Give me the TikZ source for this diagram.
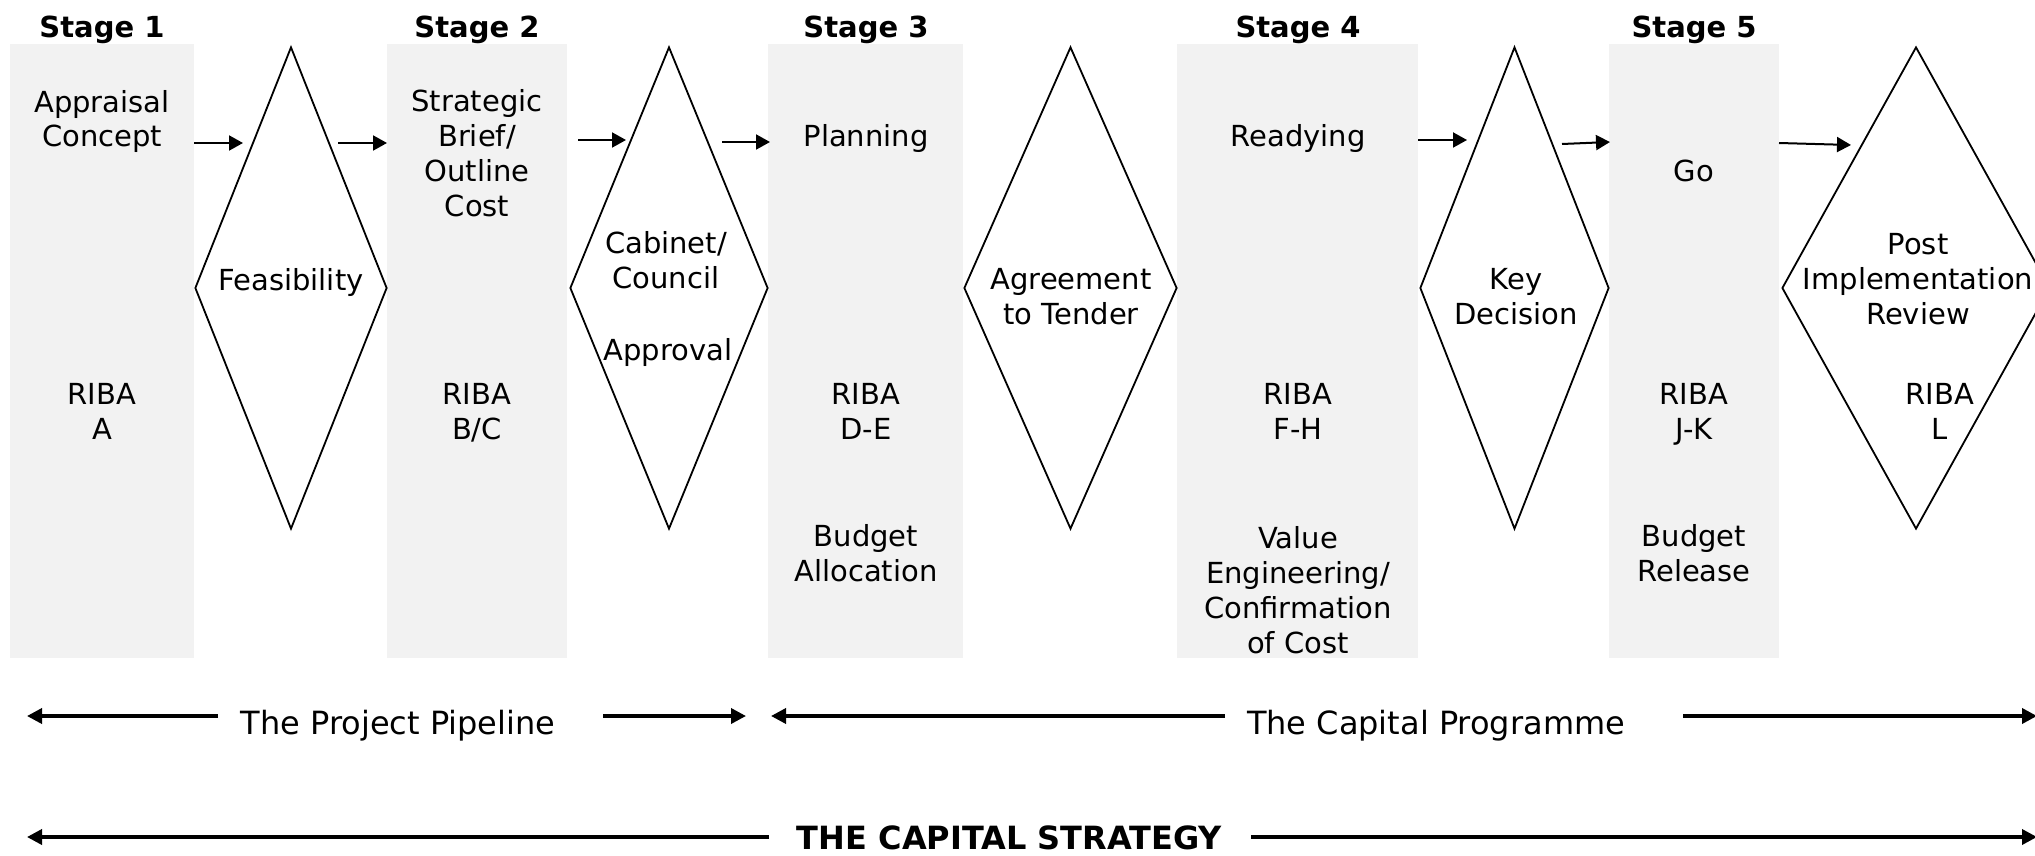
\documentclass[tikz,border=0pt]{standalone}
\usepackage{fontspec}
\setmainfont{DejaVu Sans}
\usetikzlibrary{shapes.geometric,arrows.meta}
\definecolor{boxgray}{HTML}{F2F2F2}
\begin{document}
\begin{tikzpicture}[x=1pt,y=-1pt,
  stagebox/.style={rectangle, fill=boxgray, inner sep=0, minimum height=614pt},
  gate/.style={diamond, draw=black, line width=1.8pt, inner sep=0, minimum height=482pt},
  lbl/.style={font=\fontsize{29}{35}\selectfont, align=center, inner sep=0},
  stagelbl/.style={font=\fontsize{29}{35}\selectfont\bfseries, inner sep=0},
  bandlbl/.style={font=\fontsize{32}{38}\selectfont, inner sep=0},
  bandbold/.style={font=\fontsize{32}{38}\selectfont\bfseries, inner sep=0},
  sarr/.style={line width=2pt, -{Triangle[length=14pt,width=15pt]}},
  barr/.style={line width=3.5pt, -{Triangle[length=15pt,width=15pt]}},
]
\useasboundingbox (0,0) rectangle (2035,856);

% stage boxes
\node[stagebox, minimum width=184pt] (b1) at (102,351) {};
\node[stagebox, minimum width=180pt] (b2) at (477,351) {};
\node[stagebox, minimum width=195pt] (b3) at (865.5,351) {};
\node[stagebox, minimum width=241pt] (b4) at (1297.5,351) {};
\node[stagebox, minimum width=170pt] (b5) at (1694,351) {};

% gates
\node[gate, minimum width=192pt] (d1) at (291,288) {};
\node[gate, minimum width=198pt] (d2) at (669,288) {};
\node[gate, minimum width=213pt] (d3) at (1070.5,288) {};
\node[gate, minimum width=189pt] (d4) at (1514.5,288) {};
\node[gate, minimum width=268pt] (d5) at (1916,288) {};

% stage titles
\node[stagelbl] (s1) at (102,31) {\strut Stage 1};
\node[stagelbl] (s2) at (477,31) {\strut Stage 2};
\node[stagelbl] (s3) at (866,31) {\strut Stage 3};
\node[stagelbl] (s4) at (1298,31) {\strut Stage 4};
\node[stagelbl] (s5) at (1694,31) {\strut Stage 5};

% box texts
\node[lbl] (t1a) at (102,122.5) {\strut Appraisal\\\strut Concept};
\node[lbl] (t1b) at (102,414.5) {\strut RIBA\\\strut A};
\node[lbl] (t2a) at (477,157) {\strut Strategic\\\strut Brief/\\\strut Outline\\\strut Cost};
\node[lbl] (t2b) at (477,414.5) {\strut RIBA\\\strut B/C};
\node[lbl] (t3a) at (866,139.5) {\strut Planning};
\node[lbl] (t3b) at (866,414.5) {\strut RIBA\\\strut D-E};
\node[lbl] (t3c) at (866,557) {\strut Budget\\\strut Allocation};
\node[lbl] (t4a) at (1298,139.5) {\strut Readying};
\node[lbl] (t4b) at (1298,414.5) {\strut RIBA\\\strut F-H};
\node[lbl] (t4c) at (1298,593.5) {\strut Value\\\strut Engineering/\\\strut Confirmation\\\strut of Cost};
\node[lbl] (t5a) at (1694,174.5) {\strut Go};
\node[lbl] (t5b) at (1694,414.5) {\strut RIBA\\\strut J-K};
\node[lbl] (t5c) at (1694,557) {\strut Budget\\\strut Release};

% gate texts
\node[lbl] (g1) at (291,283.5) {\strut Feasibility};
\node[lbl] (g2a) at (666,264) {\strut Cabinet/\\\strut Council};
\node[lbl] (g2b) at (668,353.5) {\strut Approval};
\node[lbl] (g3) at (1071,300) {\strut Agreement\\\strut to Tender};
\node[lbl] (g4) at (1516,299.5) {\strut Key\\\strut Decision};
\node[lbl] (g5a) at (1918,282.5) {\strut Post\\\strut Implementation\\\strut Review};
\node[lbl] (g5b) at (1940,414.5) {\strut RIBA\\\strut L};

% flow arrows
\coordinate (f1s) at (194,143);  \coordinate (f1e) at (243,143);
\coordinate (f2s) at (338,143);  \coordinate (f2e) at (387,143);
\coordinate (f3s) at (578,140);  \coordinate (f3e) at (626,140);
\coordinate (f4s) at (722,142);  \coordinate (f4e) at (770,142);
\coordinate (f5s) at (1418,140); \coordinate (f5e) at (1467,140);
\coordinate (f6s) at (1562,144); \coordinate (f6e) at (1610,142);
\coordinate (f7s) at (1779,143); \coordinate (f7e) at (1851,145);
\draw[sarr] (f1s) -- (f1e);
\draw[sarr] (f2s) -- (f2e);
\draw[sarr] (f3s) -- (f3e);
\draw[sarr] (f4s) -- (f4e);
\draw[sarr] (f5s) -- (f5e);
\draw[sarr] (f6s) -- (f6e);
\draw[sarr] (f7s) -- (f7e);

% bands
\node[bandlbl] (pp) at (398,727) {\strut The Project Pipeline};
\node[bandlbl] (cp) at (1436,727) {\strut The Capital Programme};
\node[bandbold, anchor=base] (cs) at (1009.5,849) {THE CAPITAL STRATEGY};

\coordinate (pL) at (27,716);   \coordinate (pLs) at (218,716);
\coordinate (pRs) at (603,716); \coordinate (pR) at (746,716);
\coordinate (cL) at (771,716);  \coordinate (cLs) at (1225,716);
\coordinate (cRs) at (1683,716); \coordinate (cR) at (2037,716);
\coordinate (sL) at (27,837);   \coordinate (sLs) at (769,837);
\coordinate (sRs) at (1251,837); \coordinate (sR) at (2037,837);
\draw[barr] (pLs) -- (pL);
\draw[barr] (pRs) -- (pR);
\draw[barr] (cLs) -- (cL);
\draw[barr] (cRs) -- (cR);
\draw[barr] (sLs) -- (sL);
\draw[barr] (sRs) -- (sR);
\end{tikzpicture}
\end{document}
